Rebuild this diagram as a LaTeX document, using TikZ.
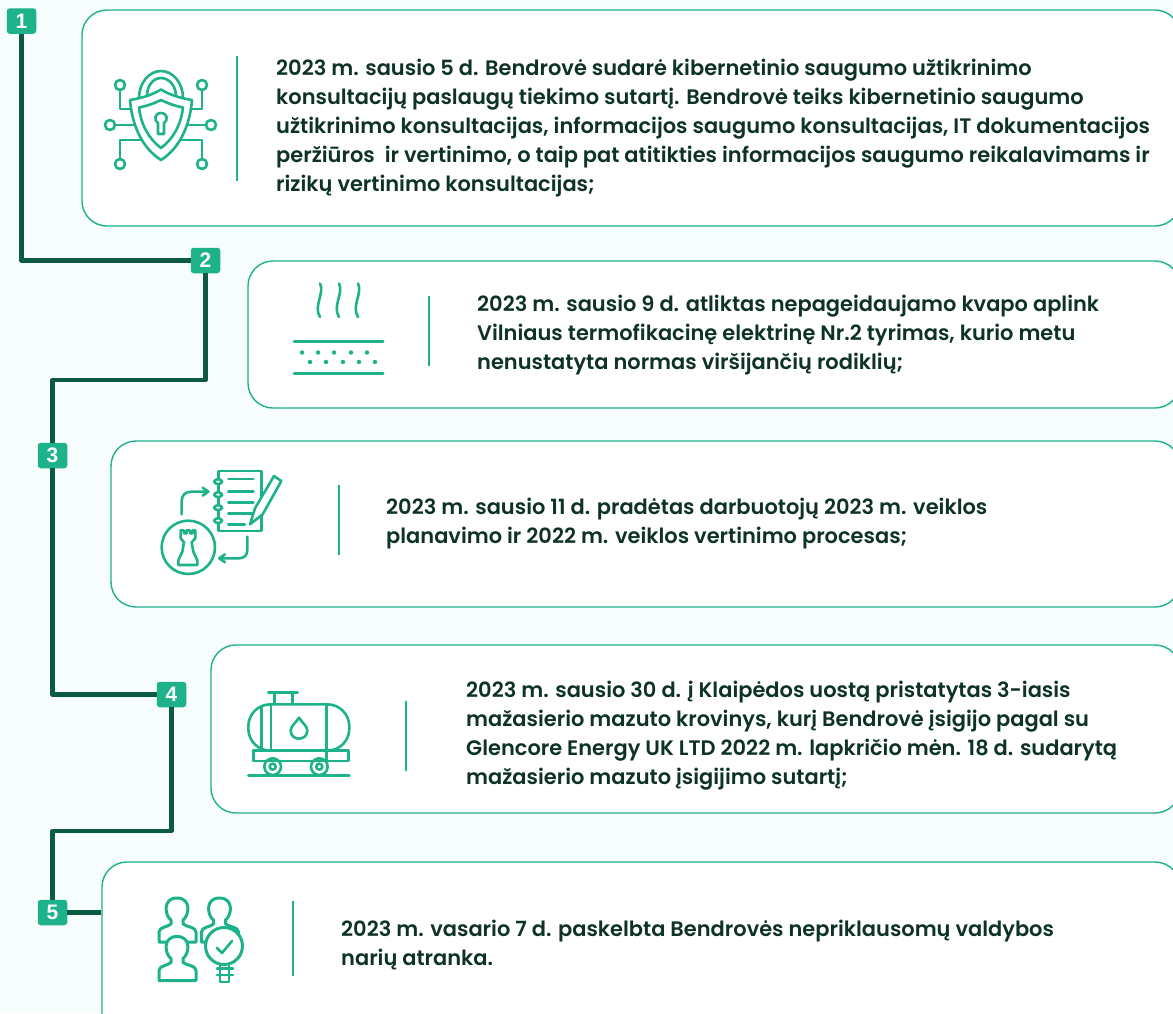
\documentclass[tikz,border=0pt]{standalone}
\usepackage{fontspec}
\setmainfont{Poppins}[UprightFont={* SemiBold},BoldFont={* Bold}]
\newfontfamily\badgefont{Liberation Sans}[Scale=1]
\definecolor{pagebg}{HTML}{F7FCFD}
\definecolor{cardline}{HTML}{1DB28A}
\definecolor{darkline}{HTML}{0B5A42}
\definecolor{bodytext}{HTML}{0E3326}
\tikzset{
  cardbox/.style={draw=cardline,line width=1.4pt,fill=white,rounded corners=25pt,inner sep=0pt},
  badge/.style={fill=cardline,rounded corners=3pt,minimum width=29.5pt,minimum height=25.5pt,inner sep=0pt,text=white,font=\badgefont\fontsize{21}{21}\selectfont\bfseries},
  link/.style={draw=darkline,line width=4.2pt,line join=round},
  rule/.style={draw=cardline,line width=2pt},
  body/.style={anchor=west,align=left,inner sep=0pt,text=bodytext,font=\fontsize{20.95}{29}\selectfont},
  icon/.style={draw=cardline,line width=2.6pt,line join=round,line cap=round},
  iconw/.style={icon,fill=white},
}
\newcommand{\personshape}[2]{%
  \draw[iconw,line width=3pt,shift={(#1,#2)}] (177,898) .. controls (162,898) and (165,916) .. (171,920) -- (171,924)
   .. controls (168,927) and (159,927) .. (159,932) -- (159,942) -- (196,942) -- (196,932)
   .. controls (196,927) and (187,927) .. (183,924) -- (183,920) .. controls (189,916) and (192,898) .. (177,898) -- cycle;}
\begin{document}
\begin{tikzpicture}[x=1pt,y=-1pt]
\useasboundingbox (0,0) rectangle (1173,1013);
\clip (0,0) rectangle (1173,1013);
\fill[pagebg] (0,0) rectangle (1173,1013);

\node[cardbox,minimum width=1098pt,minimum height=216pt] (card1) at (631,118) {};
\node[cardbox,minimum width=932pt,minimum height=147pt] (card2) at (714,334.5) {};
\node[cardbox,minimum width=1069pt,minimum height=166pt] (card3) at (645.5,524) {};
\node[cardbox,minimum width=969pt,minimum height=168pt] (card4) at (695.5,729) {};
\node[cardbox,minimum width=1078pt,minimum height=178pt] (card5) at (641,951) {};

\coordinate (bend23) at (0,380);
\coordinate (bend45) at (0,831);
\node[badge] (b1) at (21.5,21) {1};
\node[badge] (b2) at (205.5,260.5) {2};
\node[badge] (b3) at (52.5,455.5) {3};
\node[badge] (b4) at (171.5,694.5) {4};
\node[badge] (b5) at (52.5,912.5) {5};

\draw[link] (b1.south) |- (b2.west);
\draw[link] (b2.south) -- (b2.south |- bend23) -- (b3.north |- bend23) -- (b3.north);
\draw[link] (b3.south) |- (b4.west);
\draw[link] (b4.south) -- (b4.south |- bend45) -- (b5.north |- bend45) -- (b5.north);
\draw[link] (b5.east) -- (b5.east -| card5.west);

\draw[rule] (237,56) -- (237,181);
\draw[rule] (429,296) -- (429,366);
\draw[rule] (339,485) -- (339,555);
\draw[rule] (406,701) -- (406,771);
\draw[rule] (293,901) -- (293,976);

\node[body] (t1) at (276,128.5) {2023 m. sausio 5 d. Bendrovė sudarė kibernetinio saugumo užtikrinimo\\
konsultacijų paslaugų tiekimo sutartį. Bendrovė teiks kibernetinio saugumo\\
užtikrinimo konsultacijas, informacijos saugumo konsultacijas, IT dokumentacijos\\
peržiūros\ \ ir vertinimo, o taip pat atitikties informacijos saugumo reikalavimams ir\\
rizikų vertinimo konsultacijas;};
\node[body] (t2) at (477,335) {2023 m. sausio 9 d. atliktas nepageidaujamo kvapo aplink\\
Vilniaus termofikacinę elektrinę Nr.2 tyrimas, kurio metu\\
nenustatyta normas viršijančių rodiklių;};
\node[body] (t3) at (386,524) {2023 m. sausio 11 d. pradėtas darbuotojų 2023 m. veiklos\\
planavimo ir 2022 m. veiklos vertinimo procesas;};
\node[body] (t4) at (466,736) {2023 m. sausio 30 d. į Klaipėdos uostą pristatytas 3-iasis\\
mažasierio mazuto krovinys, kurį Bendrovė įsigijo pagal su\\
Glencore Energy UK LTD 2022 m. lapkričio mėn. 18 d. sudarytą\\
mažasierio mazuto įsigijimo sutartį;};
\node[body] (t5) at (341,945) {2023 m. vasario 7 d. paskelbta Bendrovės nepriklausomų valdybos\\
narių atranka.};

% icon 1: shield
\draw[icon] (139,98) .. controls (139,83) and (149,71) .. (161,71) .. controls (173,71) and (183,83) .. (183,98);
\draw[icon] (147,96) .. controls (147,86) and (153,78) .. (161,78) .. controls (169,78) and (176,86) .. (176,96);
\draw[icon] (120,90) -- (120,109) -- (131,109);
\draw[icon] (202,90) -- (202,109) -- (191,109);
\draw[icon] (115,125) -- (135,125);
\draw[icon] (206,125) -- (188,125);
\draw[icon] (120,159) -- (120,140) -- (142,140);
\draw[icon] (202,159) -- (202,140) -- (180,140);
\foreach \cx/\cy in {120/85,202/85,110/125,211/125,120/164,202/164}
  \draw[icon] (\cx,\cy) circle[radius=5];
\draw[iconw] (161,89.5) .. controls (152,95) and (142,98) .. (130,100) .. controls (132,125) and (142,148) .. (161,160)
  .. controls (180,148) and (190,125) .. (192,100) .. controls (180,98) and (170,95) .. (161,89.5) -- cycle;
\draw[icon] (161,100) .. controls (155,103) and (147,106) .. (139,107.5) .. controls (141,125) and (149,139) .. (161,148)
  .. controls (173,139) and (181,125) .. (183,107.5) .. controls (175,106) and (167,103) .. (161,100) -- cycle;
\draw[icon] (158,123) .. controls (154,121) and (154,113) .. (161,113) .. controls (168,113) and (168,121) .. (164,123)
  -- (164,134) -- (158,134) -- cycle;

% icon 2: smell
\foreach \wx in {320,339,358}
  \draw[icon] (\wx,283.5) .. controls (\wx+5,293) and (\wx-7,306) .. (\wx,317);
\draw[icon,line width=3pt] (294,341) -- (383,341);
\draw[icon,line width=3pt] (294,373) -- (383,373);
\foreach \dx in {302,318,334,351,367} \fill[cardline] (\dx,352.5) circle[radius=2.2];
\foreach \dx in {310,326,343,359,375} \fill[cardline] (\dx,362) circle[radius=2.2];

% icon 3: planning
\begin{scope}[shift={(140,455)},x=.3333pt,y=-.3333pt]
\draw[icon] (235,48) rectangle (365,228);
\foreach \ry in {80,119,158,197}
  \draw[iconw,rounded corners=3pt] (223,\ry-7) rectangle (246,\ry+7);
\draw[icon] (265,72) -- (340,72);
\draw[icon] (265,110) -- (340,110);
\draw[icon] (265,143) -- (340,143);
\draw[icon] (265,176) -- (335,176);
\draw[icon] (265,208) -- (315,208);
\draw[iconw] (330,208) -- (345,160) -- (402,63) -- (424,78) -- (368,178) -- cycle;
\draw[icon] (145,277) circle[radius=80];
\draw[icon] (125,178) -- (125,140) .. controls (125,120) and (135,110) .. (155,110) -- (203,110);
\draw[icon] (188,98) -- (205,110) -- (188,122);
\draw[icon] (322,245) -- (322,285) .. controls (322,302) and (312,310) .. (295,310) -- (240,310);
\draw[icon] (255,298) -- (238,310) -- (255,322);
\draw[icon] (122,226) -- (132,226) -- (132,235) -- (140,235) -- (140,226) -- (150,226) -- (150,235) -- (158,235) -- (158,226) -- (166,226)
  -- (166,250) -- (155,262) -- (160,290) -- (172,316) -- (172,330) -- (115,330) -- (115,316) -- (127,290) -- (132,262) -- (122,250) -- cycle;
\end{scope}

% icon 4: tank wagon
\begin{scope}[shift={(230,680)},x=.3333pt,y=-.3333pt]
\draw[icon] (115,37) -- (203,37);
\draw[icon] (133,37) -- (133,73);
\draw[icon] (187,37) -- (187,73);
\draw[icon,rounded corners=22pt] (55,73) rectangle (358,212);
\draw[icon] (95,80) -- (95,208);
\draw[icon] (123,73) -- (123,212);
\draw[icon] (290,73) -- (290,243);
\draw[icon] (207,113) .. controls (198,128) and (182,138) .. (182,152) .. controls (182,184) and (232,184) .. (232,152) .. controls (232,138) and (216,128) .. (207,113) -- cycle;
\draw[icon] (70,212) rectangle (355,243);
\draw[icon] (128,260) circle[radius=25];
\draw[icon] (128,260) circle[radius=9];
\draw[icon] (268,260) circle[radius=25];
\draw[icon] (268,260) circle[radius=9];
\draw[icon] (55,287) -- (358,287);
\end{scope}

% icon 5: people
\personshape{0}{0}
\personshape{42.5}{0}
\personshape{0}{38.5}
\draw[iconw,line width=3pt] (224,946) circle[radius=18.5];
\draw[icon] (217,948) -- (222,953) -- (232,941);
\draw[icon] (220,965) -- (220,982) -- (229,982) -- (229,965);
\draw[icon] (217,968.5) -- (233,968.5);
\draw[icon] (217,975) -- (233,975);
\end{tikzpicture}
\end{document}
